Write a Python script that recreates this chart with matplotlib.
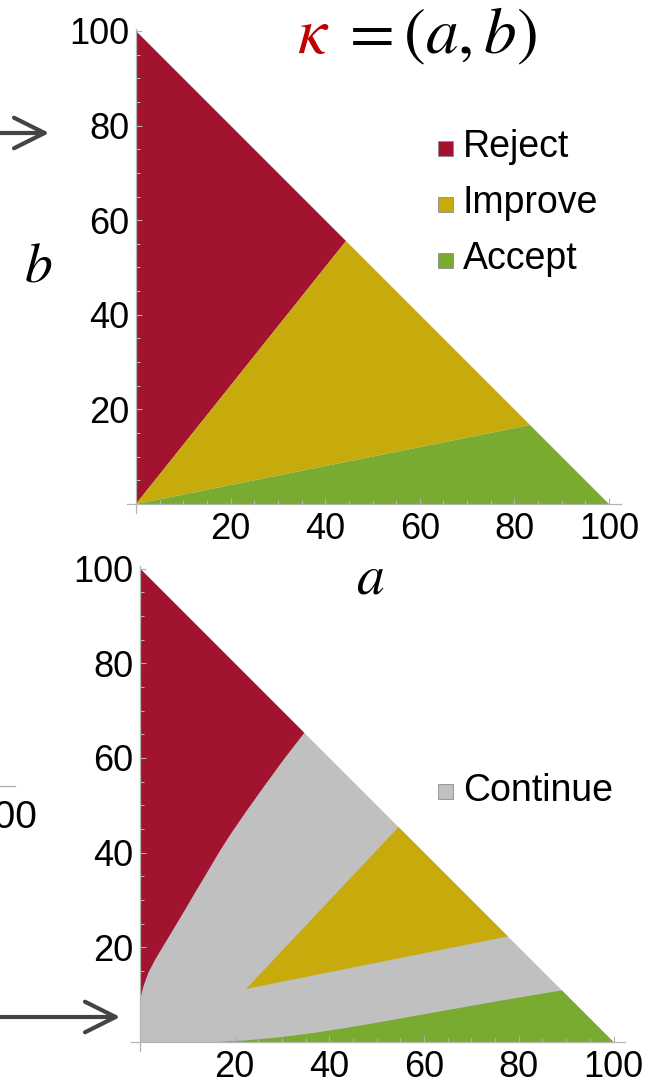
import numpy as np
import matplotlib
matplotlib.use("Agg")
import matplotlib.pyplot as plt
from matplotlib.patches import Rectangle, FancyArrowPatch
from matplotlib.lines import Line2D

plt.rcParams['font.family'] = ['Liberation Sans', 'DejaVu Sans']
plt.rcParams['mathtext.fontset'] = 'stix'

W, H = 666, 1087

# colours of the decision regions
col_reject = '#a1132f'
col_improve = '#c7ab0c'
col_accept = '#78ab30'
col_continue = '#c0c0c0'

# top panel: straight boundaries
top_reject_a = [0, 0, 44.4]
top_reject_b = [0, 100, 55.6]
top_improve_a = [0, 44.4, 83.3]
top_improve_b = [0, 55.6, 16.7]
top_accept_a = [0, 83.3, 100]
top_accept_b = [0, 16.7, 0]

# bottom panel: curved boundaries
bot_reject_a = [0, 0.25, 0.7, 1.75, 3.2, 5.3, 7.4, 9.5, 11.6, 13.7, 16.9,
                19.0, 22.5, 26.0, 30.3, 34.7]
bot_reject_b = [7.5, 9.9, 11.7, 14.6, 17.4, 20.9, 24.4, 27.9, 31.5, 35.0,
                40.4, 43.7, 48.8, 53.7, 59.6, 65.3]
bot_improve_a = [22.4, 54.6, 77.7]
bot_improve_b = [11.2, 45.4, 22.3]
bot_accept_a = [16.2, 22.5, 29.6, 36.6, 43.7, 50.7, 61.9, 76.0, 89.1]
bot_accept_b = [0, 0.35, 1.0, 1.9, 3.0, 4.2, 6.2, 8.7, 10.9]
simplex_a = [0, 100, 0]
simplex_b = [0, 0, 100]

major_ticks = [20, 40, 60, 80, 100]
minor_ticks = [t for t in range(5, 100, 5) if t % 20 != 0]

legend_top = ['Reject', 'Improve', 'Accept']
legend_top_cols = [col_reject, col_improve, col_accept]


def fx(x):
    return x / W


def fy(y):
    return 1 - y / H


def make_axes(fig, ox, oy, s):
    xlim = (-3, 104)
    ylim = (-3, 102)
    left = ox + xlim[0] * s
    bottom = (H - oy) + ylim[0] * s
    ax = fig.add_axes([left / W, bottom / H, (xlim[1] - xlim[0]) * s / W,
                       (ylim[1] - ylim[0]) * s / H])
    ax.set_xlim(*xlim)
    ax.set_ylim(*ylim)
    ax.patch.set_alpha(0)
    for side in ['top', 'right']:
        ax.spines[side].set_visible(False)
    ax.spines['left'].set_position(('data', 0))
    ax.spines['bottom'].set_position(('data', 0))
    ax.spines['left'].set_bounds(-2, 100.5)
    ax.spines['bottom'].set_bounds(-2, 102.5)
    for side in ['left', 'bottom']:
        ax.spines[side].set_color('#b4b4b4')
        ax.spines[side].set_linewidth(0.9)
    ax.set_xticks(major_ticks)
    ax.set_yticks(major_ticks)
    ax.set_xticks(minor_ticks, minor=True)
    ax.set_yticks(minor_ticks, minor=True)
    ax.tick_params(which='major', direction='in', length=4.5, width=0.8,
                   color='#b0b0b0', labelsize=26, pad=6)
    ax.tick_params(which='minor', direction='in', length=2.6, width=0.7,
                   color='#b8b8b8')
    ax.tick_params(axis='y', which='major', pad=5)
    return ax


fig = plt.figure(figsize=(W / 100, H / 100), dpi=100)

# top panel
ax1 = make_axes(fig, 136, 504, 4.73)
ax1.fill(top_reject_a, top_reject_b, color=col_reject, lw=0)
ax1.fill(top_improve_a, top_improve_b, color=col_improve, lw=0)
ax1.fill(top_accept_a, top_accept_b, color=col_accept, lw=0)

# bottom panel
ax2 = make_axes(fig, 140, 1042, 4.735)
ax2.fill(simplex_a, simplex_b, color=col_continue, lw=0)
ax2.fill([0] + bot_reject_a + [0], [bot_reject_b[0]] + bot_reject_b + [100],
         color=col_reject, lw=0)
ax2.fill(bot_improve_a, bot_improve_b, color=col_improve, lw=0)
ax2.fill(bot_accept_a + [100], bot_accept_b + [0], color=col_accept, lw=0)

# title and axis names
fig.text(fx(297), fy(53), r'$\kappa$', color='#c00000', fontsize=47,
         ha='left', va='baseline')
fig.text(fx(340), fy(53), r'$=(a,b)$', color='black', fontsize=47,
         ha='left', va='baseline')
fig.text(fx(38), fy(282), r'$b$', fontsize=40, ha='center', va='baseline')
fig.text(fx(370), fy(593), r'$a$', fontsize=40, ha='center', va='baseline')

# legends
for i, (lab, c) in enumerate(zip(legend_top, legend_top_cols)):
    cy = 148 + 56 * i
    fig.patches.append(Rectangle((fx(438), fy(cy + 7.5)), 15 / W, 15 / H,
                                 transform=fig.transFigure, facecolor=c,
                                 edgecolor='#8c8c8c', lw=0.6))
    fig.text(fx(463), fy(cy + 9), lab, fontsize=27, ha='left',
             va='baseline')
fig.patches.append(Rectangle((fx(438), fy(791 + 7.5)), 15 / W, 15 / H,
                             transform=fig.transFigure, facecolor=col_continue,
                             edgecolor='#8c8c8c', lw=0.6))
fig.text(fx(463), fy(801), 'Continue', fontsize=27, ha='left', va='baseline')

# pieces of the neighbouring panel cut off at the left edge
for y0, x1 in [(133, 52), (1017, 123)]:
    fig.patches.append(FancyArrowPatch((fx(-5), fy(y0)), (fx(x1), fy(y0)),
                                       transform=fig.transFigure,
                                       arrowstyle='->,head_length=1.1,head_width=0.55',
                                       mutation_scale=20, lw=3, color='#444444'))
fig.lines.append(Line2D([0, fx(15)], [fy(786), fy(786)],
                        transform=fig.transFigure, color='#b0b0b0', lw=1))
fig.text(fx(37), fy(828), '100', fontsize=28, ha='right', va='baseline')

fig.savefig('out.png', dpi=100)
